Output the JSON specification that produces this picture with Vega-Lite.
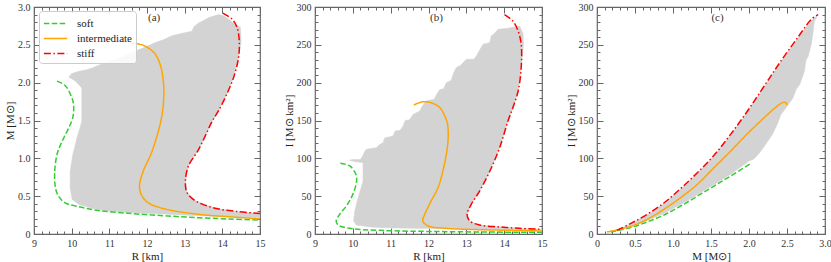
{
"$schema": "https://vega.github.io/schema/vega-lite/v6.json",
"padding": {"left": 3, "top": 1, "right": 3, "bottom": 2},
"bounds": "flush",
"spacing": 55,
"resolve": {"scale": {"color": "independent", "strokeDash": "independent"}},
"config": {
  "view": {"stroke": "#666", "strokeWidth": 1.2},
  "font": "Liberation Serif",
  "axis": {"labelFont": "Liberation Serif", "labelFontSize": 10, "labelColor": "#333", "titleFont": "Liberation Serif", "titleFontSize": 11, "titleFontWeight": "normal", "titleColor": "#222", "domain": false, "tickColor": "#666", "tickWidth": 1, "grid": false, "zindex": 1, "labelFlush": false, "labelOverlap": false, "labelBound": false}
},
"datasets": {
  "ga": [{"x":9.92,"y":2.07},{"x":10.0,"y":2.12},{"x":10.19,"y":2.15},{"x":10.4,"y":2.17},{"x":10.58,"y":2.2},{"x":10.76,"y":2.24},{"x":10.9,"y":2.26},{"x":11.07,"y":2.29},{"x":11.3,"y":2.33},{"x":11.51,"y":2.38},{"x":11.8,"y":2.44},{"x":12.0,"y":2.48},{"x":12.22,"y":2.53},{"x":12.45,"y":2.57},{"x":12.66,"y":2.62},{"x":12.9,"y":2.65},{"x":13.19,"y":2.68},{"x":13.25,"y":2.74},{"x":13.37,"y":2.79},{"x":13.5,"y":2.82},{"x":13.64,"y":2.86},{"x":13.9,"y":2.9},{"x":14.05,"y":2.88},{"x":14.3,"y":2.79},{"x":14.48,"y":2.73},{"x":14.5,"y":2.55},{"x":14.45,"y":2.4},{"x":14.43,"y":2.33},{"x":14.3,"y":2.07},{"x":14.12,"y":1.85},{"x":13.9,"y":1.63},{"x":13.73,"y":1.49},{"x":13.55,"y":1.3},{"x":13.35,"y":1.1},{"x":13.1,"y":0.9},{"x":13.02,"y":0.7},{"x":13.06,"y":0.55},{"x":13.28,"y":0.44},{"x":13.81,"y":0.34},{"x":14.43,"y":0.295},{"x":15,"y":0.27},{"x":15,"y":0.215},{"x":14.3,"y":0.225},{"x":13.4,"y":0.24},{"x":12.93,"y":0.25},{"x":12.4,"y":0.265},{"x":11.6,"y":0.28},{"x":11.0,"y":0.3},{"x":10.54,"y":0.34},{"x":10.19,"y":0.39},{"x":10.01,"y":0.46},{"x":9.96,"y":0.61},{"x":9.96,"y":0.83},{"x":10.03,"y":1.05},{"x":10.14,"y":1.27},{"x":10.27,"y":1.49},{"x":10.27,"y":1.76},{"x":10.27,"y":1.93},{"x":10.1,"y":2.02}],
  "ca": [
    {"eos":"soft","x":9.61,"y":2.02},{"eos":"soft","x":9.83,"y":1.96},{"eos":"soft","x":9.99,"y":1.82},{"eos":"soft","x":10.05,"y":1.71},{"eos":"soft","x":10.03,"y":1.54},{"eos":"soft","x":9.92,"y":1.4},{"eos":"soft","x":9.79,"y":1.27},{"eos":"soft","x":9.68,"y":1.15},{"eos":"soft","x":9.61,"y":1.05},{"eos":"soft","x":9.55,"y":0.83},{"eos":"soft","x":9.57,"y":0.61},{"eos":"soft","x":9.65,"y":0.5},{"eos":"soft","x":9.83,"y":0.41},{"eos":"soft","x":10.1,"y":0.37},{"eos":"soft","x":10.72,"y":0.31},{"eos":"soft","x":11.6,"y":0.27},{"eos":"soft","x":12.49,"y":0.24},{"eos":"soft","x":13.37,"y":0.215},{"eos":"soft","x":14.2,"y":0.198},{"eos":"soft","x":15,"y":0.185},
    {"eos":"intermediate","x":11.56,"y":2.52},{"eos":"intermediate","x":11.87,"y":2.5},{"eos":"intermediate","x":12.18,"y":2.4},{"eos":"intermediate","x":12.35,"y":2.24},{"eos":"intermediate","x":12.44,"y":1.98},{"eos":"intermediate","x":12.44,"y":1.76},{"eos":"intermediate","x":12.38,"y":1.52},{"eos":"intermediate","x":12.25,"y":1.27},{"eos":"intermediate","x":12.1,"y":1.05},{"eos":"intermediate","x":11.9,"y":0.83},{"eos":"intermediate","x":11.8,"y":0.63},{"eos":"intermediate","x":11.87,"y":0.5},{"eos":"intermediate","x":12.04,"y":0.41},{"eos":"intermediate","x":12.49,"y":0.33},{"eos":"intermediate","x":13.37,"y":0.26},{"eos":"intermediate","x":14.26,"y":0.225},{"eos":"intermediate","x":15,"y":0.2},
    {"eos":"stiff","x":14.01,"y":2.92},{"eos":"stiff","x":14.26,"y":2.84},{"eos":"stiff","x":14.39,"y":2.73},{"eos":"stiff","x":14.45,"y":2.55},{"eos":"stiff","x":14.43,"y":2.33},{"eos":"stiff","x":14.3,"y":2.07},{"eos":"stiff","x":14.12,"y":1.85},{"eos":"stiff","x":13.9,"y":1.63},{"eos":"stiff","x":13.73,"y":1.49},{"eos":"stiff","x":13.55,"y":1.3},{"eos":"stiff","x":13.35,"y":1.1},{"eos":"stiff","x":13.1,"y":0.9},{"eos":"stiff","x":13.02,"y":0.7},{"eos":"stiff","x":13.06,"y":0.55},{"eos":"stiff","x":13.28,"y":0.44},{"eos":"stiff","x":13.81,"y":0.34},{"eos":"stiff","x":14.43,"y":0.295},{"eos":"stiff","x":15,"y":0.27}
  ],
  "gb": [{"x":9.9,"y":97.4},{"x":10.0,"y":98.5},{"x":10.2,"y":98.5},{"x":10.27,"y":104},{"x":10.3,"y":108},{"x":10.36,"y":112},{"x":10.62,"y":114},{"x":10.7,"y":118},{"x":10.8,"y":120.7},{"x":10.84,"y":127},{"x":11.06,"y":129.5},{"x":11.12,"y":136},{"x":11.25,"y":137},{"x":11.33,"y":142.7},{"x":11.38,"y":150},{"x":11.5,"y":151},{"x":11.59,"y":158},{"x":11.77,"y":162.5},{"x":11.85,"y":170},{"x":11.94,"y":175.8},{"x":12.15,"y":178},{"x":12.21,"y":184},{"x":12.3,"y":191},{"x":12.4,"y":192},{"x":12.47,"y":200},{"x":12.6,"y":203},{"x":12.65,"y":211},{"x":12.73,"y":219.8},{"x":12.85,"y":223},{"x":13.0,"y":230.9},{"x":13.2,"y":231},{"x":13.26,"y":235},{"x":13.35,"y":243},{"x":13.44,"y":250.7},{"x":13.62,"y":253},{"x":13.66,"y":262},{"x":13.72,"y":264},{"x":13.84,"y":270.5},{"x":14.1,"y":272},{"x":14.41,"y":275},{"x":14.5,"y":264},{"x":14.51,"y":251},{"x":14.45,"y":220},{"x":14.37,"y":189},{"x":14.23,"y":167},{"x":14.1,"y":149.3},{"x":13.88,"y":114},{"x":13.62,"y":83},{"x":13.35,"y":56.8},{"x":13.13,"y":39.2},{"x":13.02,"y":26},{"x":13.09,"y":17.2},{"x":13.35,"y":11.9},{"x":13.88,"y":9.3},{"x":14.41,"y":7.5},{"x":15,"y":6.2},{"x":15,"y":5.0},{"x":14.2,"y":5.5},{"x":13.3,"y":6.3},{"x":12.5,"y":7.0},{"x":11.5,"y":7.6},{"x":10.8,"y":8.3},{"x":10.45,"y":9.3},{"x":10.09,"y":11.9},{"x":10.02,"y":17.2},{"x":10.05,"y":30.4},{"x":10.14,"y":48},{"x":10.27,"y":70},{"x":10.27,"y":94.3},{"x":10.0,"y":96}],
  "cb": [
    {"eos":"soft","x":9.67,"y":93.4},{"eos":"soft","x":9.92,"y":89.9},{"eos":"soft","x":10.08,"y":78.9},{"eos":"soft","x":10.1,"y":70},{"eos":"soft","x":10.0,"y":52.4},{"eos":"soft","x":9.83,"y":37},{"eos":"soft","x":9.65,"y":26},{"eos":"soft","x":9.56,"y":17.2},{"eos":"soft","x":9.61,"y":11.9},{"eos":"soft","x":9.92,"y":7.5},{"eos":"soft","x":10.71,"y":4.8},{"eos":"soft","x":12.47,"y":3.1},{"eos":"soft","x":15,"y":2.2},
    {"eos":"intermediate","x":11.61,"y":170.5},{"eos":"intermediate","x":11.85,"y":174.8},{"eos":"intermediate","x":12.07,"y":173.5},{"eos":"intermediate","x":12.3,"y":167},{"eos":"intermediate","x":12.43,"y":156},{"eos":"intermediate","x":12.5,"y":146},{"eos":"intermediate","x":12.52,"y":127},{"eos":"intermediate","x":12.47,"y":105},{"eos":"intermediate","x":12.38,"y":83},{"eos":"intermediate","x":12.25,"y":61},{"eos":"intermediate","x":12.07,"y":43.6},{"eos":"intermediate","x":11.9,"y":26},{"eos":"intermediate","x":11.85,"y":17.2},{"eos":"intermediate","x":11.99,"y":10.6},{"eos":"intermediate","x":12.47,"y":7.5},{"eos":"intermediate","x":13.35,"y":5.7},{"eos":"intermediate","x":14.23,"y":4.8},{"eos":"intermediate","x":15,"y":4.0},
    {"eos":"stiff","x":14.01,"y":290},{"eos":"stiff","x":14.23,"y":281.5},{"eos":"stiff","x":14.37,"y":268},{"eos":"stiff","x":14.45,"y":250.7},{"eos":"stiff","x":14.45,"y":219.8},{"eos":"stiff","x":14.37,"y":189},{"eos":"stiff","x":14.23,"y":167},{"eos":"stiff","x":14.1,"y":149.3},{"eos":"stiff","x":13.88,"y":114},{"eos":"stiff","x":13.62,"y":83},{"eos":"stiff","x":13.35,"y":56.8},{"eos":"stiff","x":13.13,"y":39.2},{"eos":"stiff","x":13.02,"y":26},{"eos":"stiff","x":13.09,"y":17.2},{"eos":"stiff","x":13.35,"y":11.9},{"eos":"stiff","x":13.88,"y":9.3},{"eos":"stiff","x":14.41,"y":7.5},{"eos":"stiff","x":15,"y":6.2}
  ],
  "gc": [{"x":0.3,"y":6.5},{"x":0.44,"y":13.2},{"x":0.66,"y":25.3},{"x":0.88,"y":40.3},{"x":1.1,"y":59},{"x":1.32,"y":80},{"x":1.54,"y":103},{"x":1.76,"y":131},{"x":1.98,"y":161.5},{"x":2.2,"y":194.6},{"x":2.42,"y":227.6},{"x":2.64,"y":258.5},{"x":2.82,"y":282.5},{"x":2.89,"y":288},{"x":2.885,"y":285},{"x":2.86,"y":281.5},{"x":2.84,"y":263.9},{"x":2.82,"y":250.7},{"x":2.78,"y":235},{"x":2.75,"y":230},{"x":2.73,"y":215.4},{"x":2.67,"y":197.8},{"x":2.62,"y":191},{"x":2.58,"y":180},{"x":2.49,"y":167},{"x":2.42,"y":158},{"x":2.38,"y":147},{"x":2.31,"y":131.7},{"x":2.22,"y":118.5},{"x":2.14,"y":107.5},{"x":2.06,"y":98.7},{"x":2.0,"y":96.5},{"x":1.76,"y":79},{"x":1.54,"y":65.5},{"x":1.32,"y":52},{"x":1.1,"y":39},{"x":0.88,"y":27},{"x":0.66,"y":17.5},{"x":0.44,"y":9.8},{"x":0.3,"y":6.0}],
  "cc": [
    {"eos":"soft","x":0.18,"y":2.6},{"eos":"soft","x":0.44,"y":8.4},{"eos":"soft","x":0.66,"y":15.9},{"eos":"soft","x":0.88,"y":25},{"eos":"soft","x":1.1,"y":37},{"eos":"soft","x":1.32,"y":50},{"eos":"soft","x":1.54,"y":63.4},{"eos":"soft","x":1.76,"y":76.7},{"eos":"soft","x":2.02,"y":93},
    {"eos":"intermediate","x":0.13,"y":2.6},{"eos":"intermediate","x":0.44,"y":10},{"eos":"intermediate","x":0.66,"y":19.4},{"eos":"intermediate","x":0.88,"y":32.6},{"eos":"intermediate","x":1.1,"y":48},{"eos":"intermediate","x":1.32,"y":65.6},{"eos":"intermediate","x":1.54,"y":87.7},{"eos":"intermediate","x":1.76,"y":109.7},{"eos":"intermediate","x":1.98,"y":132.6},{"eos":"intermediate","x":2.2,"y":153.7},{"eos":"intermediate","x":2.33,"y":165.6},{"eos":"intermediate","x":2.44,"y":173.6},{"eos":"intermediate","x":2.48,"y":174},{"eos":"intermediate","x":2.5,"y":170.5},
    {"eos":"stiff","x":0.26,"y":4.8},{"eos":"stiff","x":0.44,"y":13.7},{"eos":"stiff","x":0.66,"y":26},{"eos":"stiff","x":0.88,"y":41},{"eos":"stiff","x":1.1,"y":60},{"eos":"stiff","x":1.32,"y":81},{"eos":"stiff","x":1.54,"y":104},{"eos":"stiff","x":1.76,"y":132},{"eos":"stiff","x":1.98,"y":162.5},{"eos":"stiff","x":2.2,"y":195.6},{"eos":"stiff","x":2.42,"y":228.6},{"eos":"stiff","x":2.64,"y":259.5},{"eos":"stiff","x":2.82,"y":283.7},{"eos":"stiff","x":2.91,"y":290}
  ]
},
"hconcat": [
 {
  "width": 226, "height": 227,
  "resolve": {"scale": {"x": "independent", "y": "independent"}, "axis": {"x": "independent", "y": "independent"}},
  "layer": [
   {"data": {"name": "ga"},
    "mark": {"type": "line", "fill": "#d3d3d3", "stroke": "#d3d3d3", "strokeWidth": 0.5, "clip": true},
    "encoding": {
      "x": {"field": "x", "type": "quantitative", "scale": {"domain": [9, 15], "nice": false, "zero": false}, "axis": {"orient": "bottom", "title": "R [km]", "values": [9,10,11,12,13,14,15], "format": "d", "tickSize": -6, "labelPadding": 10, "titlePadding": 2}},
      "y": {"field": "y", "type": "quantitative", "scale": {"domain": [0, 3], "nice": false, "zero": false}, "axis": {"orient": "left", "title": "M [M⊙]", "values": [0,0.5,1,1.5,2,2.5,3], "labelExpr": "datum.value == 0 ? '0' : format(datum.value, '.1f')", "tickSize": -6, "labelPadding": 10, "titlePadding": 2}},
      "order": {"value": null}
    }},
   {"data": {"name": "ca"},
    "mark": {"type": "line", "strokeWidth": 1.5, "clip": true, "interpolate": "catmull-rom"},
    "encoding": {
      "x": {"field": "x", "type": "quantitative", "scale": {"domain": [9, 15], "nice": false, "zero": false}, "axis": {"orient": "top", "title": null, "labelExpr": "''", "labelFontSize": 0, "labelPadding": 0, "values": [9,10,11,12,13,14,15], "tickSize": -6}},
      "y": {"field": "y", "type": "quantitative", "scale": {"domain": [0, 3], "nice": false, "zero": false}, "axis": {"orient": "right", "title": null, "labelExpr": "''", "labelFontSize": 0, "labelPadding": 0, "values": [0,0.5,1,1.5,2,2.5,3], "tickSize": -6}},
      "color": {"field": "eos", "type": "nominal", "scale": {"domain": ["soft", "intermediate", "stiff"], "range": ["#32cd32", "#ffa500", "#ff0000"]},
        "legend": {"orient": "none", "legendX": 5, "legendY": 4, "title": null, "symbolType": "M-1.55,0L1.55,0", "symbolSize": 225, "symbolOffset": 4, "symbolStrokeWidth": 1.5, "labelFont": "Liberation Serif", "labelFontSize": 11, "labelColor": "#222", "labelOffset": 13, "fillColor": "rgba(255,255,255,0.85)", "strokeColor": "#cccccc", "cornerRadius": 3, "padding": 4, "rowPadding": 1}},
      "strokeDash": {"field": "eos", "type": "nominal", "scale": {"domain": ["soft", "intermediate", "stiff"], "range": [[5.5, 2.4], [1, 0], [7, 2.5, 1.5, 2.5]]},
        "legend": {"orient": "none", "legendX": 5, "legendY": 4, "title": null, "symbolType": "M-1.55,0L1.55,0", "symbolSize": 225, "symbolOffset": 4, "symbolStrokeWidth": 1.5, "labelFont": "Liberation Serif", "labelFontSize": 11, "labelColor": "#222", "labelOffset": 13, "fillColor": "rgba(255,255,255,0.85)", "strokeColor": "#cccccc", "cornerRadius": 3, "padding": 4, "rowPadding": 1}},
      "order": {"value": null}
    }},
   {"data": {"values": [{"x": 12.19, "y": 2.855, "t": "(a)"}]},
    "mark": {"type": "text", "font": "Liberation Serif", "fontSize": 11, "color": "#333"},
    "encoding": {
      "x": {"field": "x", "type": "quantitative", "scale": {"domain": [9, 15], "nice": false, "zero": false}, "axis": {"orient": "bottom", "title": null, "labelExpr": "''", "labelFontSize": 0, "labelPadding": 0, "values": [9.2,9.4,9.6,9.8,10.2,10.4,10.6,10.8,11.2,11.4,11.6,11.8,12.2,12.4,12.6,12.8,13.2,13.4,13.6,13.8,14.2,14.4,14.6,14.8], "tickSize": -3}},
      "y": {"field": "y", "type": "quantitative", "scale": {"domain": [0, 3], "nice": false, "zero": false}, "axis": {"orient": "left", "title": null, "labelExpr": "''", "labelFontSize": 0, "labelPadding": 0, "values": [0.1,0.2,0.3,0.4,0.6,0.7,0.8,0.9,1.1,1.2,1.3,1.4,1.6,1.7,1.8,1.9,2.1,2.2,2.3,2.4,2.6,2.7,2.8,2.9], "tickSize": -3}},
      "text": {"field": "t"}
    }},
   {"data": {"values": [{"x": 12.19, "y": 2.855}]},
    "mark": {"type": "point", "opacity": 0},
    "encoding": {
      "x": {"field": "x", "type": "quantitative", "scale": {"domain": [9, 15], "nice": false, "zero": false}, "axis": {"orient": "top", "title": null, "labelExpr": "''", "labelFontSize": 0, "labelPadding": 0, "values": [9.2,9.4,9.6,9.8,10.2,10.4,10.6,10.8,11.2,11.4,11.6,11.8,12.2,12.4,12.6,12.8,13.2,13.4,13.6,13.8,14.2,14.4,14.6,14.8], "tickSize": -3}},
      "y": {"field": "y", "type": "quantitative", "scale": {"domain": [0, 3], "nice": false, "zero": false}, "axis": {"orient": "right", "title": null, "labelExpr": "''", "labelFontSize": 0, "labelPadding": 0, "values": [0.1,0.2,0.3,0.4,0.6,0.7,0.8,0.9,1.1,1.2,1.3,1.4,1.6,1.7,1.8,1.9,2.1,2.2,2.3,2.4,2.6,2.7,2.8,2.9], "tickSize": -3}}
    }}
  ]
 },
 {
  "width": 227, "height": 227,
  "resolve": {"scale": {"x": "independent", "y": "independent"}, "axis": {"x": "independent", "y": "independent"}},
  "layer": [
   {"data": {"name": "gb"},
    "mark": {"type": "line", "fill": "#d3d3d3", "stroke": "#d3d3d3", "strokeWidth": 0.5, "clip": true},
    "encoding": {
      "x": {"field": "x", "type": "quantitative", "scale": {"domain": [9, 15], "nice": false, "zero": false}, "axis": {"orient": "bottom", "title": "R [km]", "values": [9,10,11,12,13,14,15], "format": "d", "tickSize": -6, "labelPadding": 10, "titlePadding": 2}},
      "y": {"field": "y", "type": "quantitative", "scale": {"domain": [0, 300], "nice": false, "zero": false}, "axis": {"orient": "left", "title": "I [M⊙ km²]", "values": [0,50,100,150,200,250,300], "format": "d", "tickSize": -6, "labelPadding": 10, "titlePadding": 2}},
      "order": {"value": null}
    }},
   {"data": {"name": "cb"},
    "mark": {"type": "line", "strokeWidth": 1.5, "clip": true, "interpolate": "catmull-rom"},
    "encoding": {
      "x": {"field": "x", "type": "quantitative", "scale": {"domain": [9, 15], "nice": false, "zero": false}, "axis": {"orient": "top", "title": null, "labelExpr": "''", "labelFontSize": 0, "labelPadding": 0, "values": [9,10,11,12,13,14,15], "tickSize": -6}},
      "y": {"field": "y", "type": "quantitative", "scale": {"domain": [0, 300], "nice": false, "zero": false}, "axis": {"orient": "right", "title": null, "labelExpr": "''", "labelFontSize": 0, "labelPadding": 0, "values": [0,50,100,150,200,250,300], "tickSize": -6}},
      "color": {"field": "eos", "type": "nominal", "scale": {"domain": ["soft", "intermediate", "stiff"], "range": ["#32cd32", "#ffa500", "#ff0000"]}, "legend": null},
      "strokeDash": {"field": "eos", "type": "nominal", "scale": {"domain": ["soft", "intermediate", "stiff"], "range": [[5.5, 2.4], [1, 0], [7, 2.5, 1.5, 2.5]]}, "legend": null},
      "order": {"value": null}
    }},
   {"data": {"values": [{"x": 12.21, "y": 285.5, "t": "(b)"}]},
    "mark": {"type": "text", "font": "Liberation Serif", "fontSize": 11, "color": "#333"},
    "encoding": {
      "x": {"field": "x", "type": "quantitative", "scale": {"domain": [9, 15], "nice": false, "zero": false}, "axis": {"orient": "bottom", "title": null, "labelExpr": "''", "labelFontSize": 0, "labelPadding": 0, "values": [9.2,9.4,9.6,9.8,10.2,10.4,10.6,10.8,11.2,11.4,11.6,11.8,12.2,12.4,12.6,12.8,13.2,13.4,13.6,13.8,14.2,14.4,14.6,14.8], "tickSize": -3}},
      "y": {"field": "y", "type": "quantitative", "scale": {"domain": [0, 300], "nice": false, "zero": false}, "axis": {"orient": "left", "title": null, "labelExpr": "''", "labelFontSize": 0, "labelPadding": 0, "values": [10,20,30,40,60,70,80,90,110,120,130,140,160,170,180,190,210,220,230,240,260,270,280,290], "tickSize": -3}},
      "text": {"field": "t"}
    }},
   {"data": {"values": [{"x": 12.21, "y": 285.5}]},
    "mark": {"type": "point", "opacity": 0},
    "encoding": {
      "x": {"field": "x", "type": "quantitative", "scale": {"domain": [9, 15], "nice": false, "zero": false}, "axis": {"orient": "top", "title": null, "labelExpr": "''", "labelFontSize": 0, "labelPadding": 0, "values": [9.2,9.4,9.6,9.8,10.2,10.4,10.6,10.8,11.2,11.4,11.6,11.8,12.2,12.4,12.6,12.8,13.2,13.4,13.6,13.8,14.2,14.4,14.6,14.8], "tickSize": -3}},
      "y": {"field": "y", "type": "quantitative", "scale": {"domain": [0, 300], "nice": false, "zero": false}, "axis": {"orient": "right", "title": null, "labelExpr": "''", "labelFontSize": 0, "labelPadding": 0, "values": [10,20,30,40,60,70,80,90,110,120,130,140,160,170,180,190,210,220,230,240,260,270,280,290], "tickSize": -3}}
    }}
  ]
 },
 {
  "width": 228, "height": 227,
  "resolve": {"scale": {"x": "independent", "y": "independent"}, "axis": {"x": "independent", "y": "independent"}},
  "layer": [
   {"data": {"name": "gc"},
    "mark": {"type": "line", "fill": "#d3d3d3", "stroke": "#d3d3d3", "strokeWidth": 0.5, "clip": true},
    "encoding": {
      "x": {"field": "x", "type": "quantitative", "scale": {"domain": [0, 3], "nice": false, "zero": false}, "axis": {"orient": "bottom", "title": "M [M⊙]", "values": [0,0.5,1,1.5,2,2.5,3], "labelExpr": "datum.value == 0 ? '0' : format(datum.value, '.1f')", "tickSize": -6, "labelPadding": 10, "titlePadding": 2}},
      "y": {"field": "y", "type": "quantitative", "scale": {"domain": [0, 300], "nice": false, "zero": false}, "axis": {"orient": "left", "title": "I [M⊙ km²]", "values": [0,50,100,150,200,250,300], "format": "d", "tickSize": -6, "labelPadding": 10, "titlePadding": 2}},
      "order": {"value": null}
    }},
   {"data": {"name": "cc"},
    "mark": {"type": "line", "strokeWidth": 1.5, "clip": true, "interpolate": "catmull-rom"},
    "encoding": {
      "x": {"field": "x", "type": "quantitative", "scale": {"domain": [0, 3], "nice": false, "zero": false}, "axis": {"orient": "top", "title": null, "labelExpr": "''", "labelFontSize": 0, "labelPadding": 0, "values": [0,0.5,1,1.5,2,2.5,3], "tickSize": -6}},
      "y": {"field": "y", "type": "quantitative", "scale": {"domain": [0, 300], "nice": false, "zero": false}, "axis": {"orient": "right", "title": null, "labelExpr": "''", "labelFontSize": 0, "labelPadding": 0, "values": [0,50,100,150,200,250,300], "tickSize": -6}},
      "color": {"field": "eos", "type": "nominal", "scale": {"domain": ["soft", "intermediate", "stiff"], "range": ["#32cd32", "#ffa500", "#ff0000"]}, "legend": null},
      "strokeDash": {"field": "eos", "type": "nominal", "scale": {"domain": ["soft", "intermediate", "stiff"], "range": [[5.5, 2.4], [1, 0], [7, 2.5, 1.5, 2.5]]}, "legend": null},
      "order": {"value": null}
    }},
   {"data": {"values": [{"x": 1.586, "y": 285.5, "t": "(c)"}]},
    "mark": {"type": "text", "font": "Liberation Serif", "fontSize": 11, "color": "#333"},
    "encoding": {
      "x": {"field": "x", "type": "quantitative", "scale": {"domain": [0, 3], "nice": false, "zero": false}, "axis": {"orient": "bottom", "title": null, "labelExpr": "''", "labelFontSize": 0, "labelPadding": 0, "values": [0.1,0.2,0.3,0.4,0.6,0.7,0.8,0.9,1.1,1.2,1.3,1.4,1.6,1.7,1.8,1.9,2.1,2.2,2.3,2.4,2.6,2.7,2.8,2.9], "tickSize": -3}},
      "y": {"field": "y", "type": "quantitative", "scale": {"domain": [0, 300], "nice": false, "zero": false}, "axis": {"orient": "left", "title": null, "labelExpr": "''", "labelFontSize": 0, "labelPadding": 0, "values": [10,20,30,40,60,70,80,90,110,120,130,140,160,170,180,190,210,220,230,240,260,270,280,290], "tickSize": -3}},
      "text": {"field": "t"}
    }},
   {"data": {"values": [{"x": 1.586, "y": 285.5}]},
    "mark": {"type": "point", "opacity": 0},
    "encoding": {
      "x": {"field": "x", "type": "quantitative", "scale": {"domain": [0, 3], "nice": false, "zero": false}, "axis": {"orient": "top", "title": null, "labelExpr": "''", "labelFontSize": 0, "labelPadding": 0, "values": [0.1,0.2,0.3,0.4,0.6,0.7,0.8,0.9,1.1,1.2,1.3,1.4,1.6,1.7,1.8,1.9,2.1,2.2,2.3,2.4,2.6,2.7,2.8,2.9], "tickSize": -3}},
      "y": {"field": "y", "type": "quantitative", "scale": {"domain": [0, 300], "nice": false, "zero": false}, "axis": {"orient": "right", "title": null, "labelExpr": "''", "labelFontSize": 0, "labelPadding": 0, "values": [10,20,30,40,60,70,80,90,110,120,130,140,160,170,180,190,210,220,230,240,260,270,280,290], "tickSize": -3}}
    }}
  ]
 }
]
}
